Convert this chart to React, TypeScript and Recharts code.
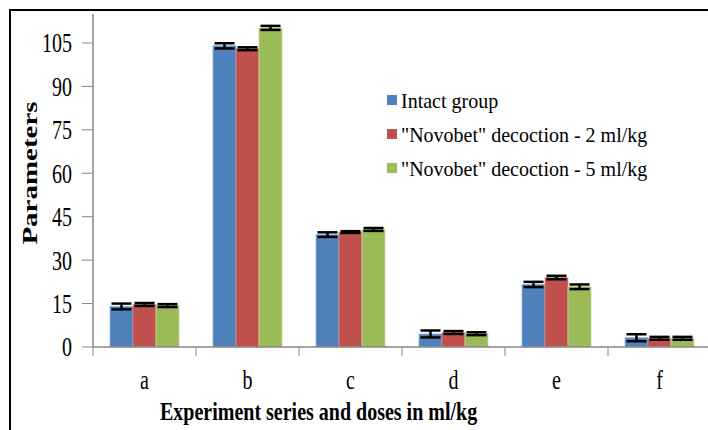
import React from 'react';
import { BarChart, Bar, XAxis, YAxis, Legend, ErrorBar, Label } from 'recharts';

const categories = ['a', 'b', 'c', 'd', 'e', 'f'];
const intactValues = [14.0, 104.0, 38.8, 4.5, 21.6, 3.2];
const nov2Values = [14.7, 103.0, 39.7, 5.0, 24.0, 3.0];
const nov5Values = [14.3, 110.2, 40.6, 4.6, 20.8, 3.0];
const intactErrors = [1.0, 0.9, 0.8, 1.2, 0.9, 1.2];
const nov2Errors = [0.5, 0.5, 0.3, 0.5, 0.6, 0.5];
const nov5Errors = [0.5, 0.7, 0.5, 0.5, 0.8, 0.5];
const yTicks = [0, 15, 30, 45, 60, 75, 90, 105];

const seriesNames = ['Intact group', '"Novobet" decoction - 2 ml/kg', '"Novobet" decoction - 5 ml/kg'];
const seriesColors = ['#4F81BD', '#C0504D', '#9BBB59'];

const data = categories.map((c, i) => ({
  name: c,
  intact: intactValues[i],
  nov2: nov2Values[i],
  nov5: nov5Values[i],
  intactErr: intactErrors[i],
  nov2Err: nov2Errors[i],
  nov5Err: nov5Errors[i],
}));

const FONT = "'Liberation Serif', 'Times New Roman', serif";
const STRETCH = 1.38;
const AXIS_GRAY = '#868686';
const BAND = 103;

const YTick = (props: any) => {
  const { x, y, payload } = props;
  return (
    <g transform={`translate(${x},${y})`}>
      <text textAnchor="end" dy="0.34em" transform={`scale(1,${STRETCH})`} style={{ fontFamily: FONT }} fontSize={20} fill="#000">
        {payload.value}
      </text>
    </g>
  );
};

const XTick = (props: any) => {
  const { x, payload } = props;
  const axisY = 347;
  return (
    <g>
      <line x1={x - BAND / 2} x2={x - BAND / 2} y1={axisY} y2={axisY + 9} stroke={AXIS_GRAY} strokeWidth={1} />
      <g transform={`translate(${x},389)`}>
        <text textAnchor="middle" transform={`scale(1,${STRETCH})`} style={{ fontFamily: FONT }} fontSize={20} fill="#000">
          {payload.value}
        </text>
      </g>
    </g>
  );
};

const XTitle = () => (
  <g transform="translate(160,420)">
    <text textAnchor="start" transform="scale(1,1.3)" style={{ fontFamily: FONT }} fontWeight="bold" fontSize={20} fill="#000">
      Experiment series and doses in ml/kg
    </text>
  </g>
);

const YTitle = () => (
  <g transform="translate(37,173) rotate(-90)">
    <text textAnchor="middle" transform={`scale(${STRETCH},1)`} style={{ fontFamily: FONT }} fontWeight="bold" fontSize={21} fill="#000">
      Parameters
    </text>
  </g>
);

const renderLegend = () => (
  <div style={{ fontFamily: FONT, fontSize: 20, color: '#000' }}>
    {seriesNames.map((n, i) => (
      <div key={n} style={{ display: 'flex', alignItems: 'center', height: 34, whiteSpace: 'nowrap' }}>
        <span style={{ display: 'inline-block', width: 10, height: 10, background: seriesColors[i], marginRight: 4 }} />
        <span style={{ display: 'inline-block', transform: 'scale(1,1.1)' }}>{n}</span>
      </div>
    ))}
  </div>
);

export default function App() {
  return (
    <div style={{ position: 'absolute', left: 0, top: 0, width: 708, height: 430, overflow: 'hidden', background: '#fff' }}>
      <BarChart
        width={712}
        height={430}
        data={data}
        margin={{ top: 14, right: 1, bottom: 0, left: 10 }}
        barCategoryGap={17}
        barGap={0}
      >
        <XAxis
          dataKey="name"
          height={83}
          axisLine={{ stroke: AXIS_GRAY, strokeWidth: 1.5 }}
          tickLine={false}
          tick={<XTick />}
          interval={0}
          label={<Label content={<XTitle />} />}
        />
        <YAxis
          width={83}
          domain={[0, 115]}
          ticks={yTicks}
          allowDataOverflow
          axisLine={{ stroke: AXIS_GRAY, strokeWidth: 1.5 }}
          tickLine={{ stroke: AXIS_GRAY }}
          tickSize={11}
          tickMargin={10}
          tick={<YTick />}
          label={<Label content={<YTitle />} />}
        />
        <Legend
          layout="vertical"
          verticalAlign="middle"
          align="center"
          wrapperStyle={{ left: 387, top: 83, width: 320 }}
          content={renderLegend}
        />
        <Bar dataKey="intact" name={seriesNames[0]} fill={seriesColors[0]} stroke="#8FB0DA" strokeWidth={0.8} isAnimationActive={false}>
          <ErrorBar dataKey="intactErr" width={10} strokeWidth={2.5} stroke="#000" />
        </Bar>
        <Bar dataKey="nov2" name={seriesNames[1]} fill={seriesColors[1]} stroke="#D98C8A" strokeWidth={0.8} isAnimationActive={false}>
          <ErrorBar dataKey="nov2Err" width={10} strokeWidth={2.5} stroke="#000" />
        </Bar>
        <Bar dataKey="nov5" name={seriesNames[2]} fill={seriesColors[2]} stroke="#C3D69B" strokeWidth={0.8} isAnimationActive={false}>
          <ErrorBar dataKey="nov5Err" width={10} strokeWidth={2.5} stroke="#000" />
        </Bar>
      </BarChart>
      <div
        style={{
          position: 'absolute',
          left: 9,
          top: 9,
          width: 760,
          height: 480,
          borderLeft: '2px solid #000',
          borderTop: '2px solid #000',
          pointerEvents: 'none',
        }}
      />
    </div>
  );
}
